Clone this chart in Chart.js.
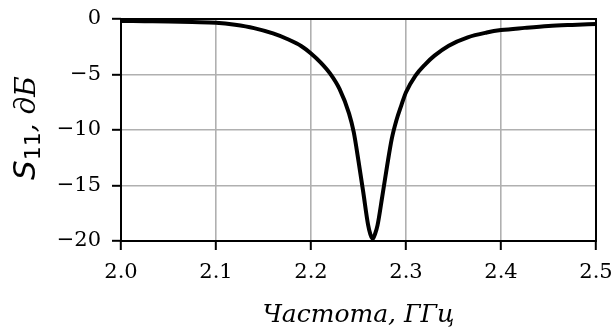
<!DOCTYPE html>
<html lang="ru">
<head>
  <meta charset="UTF-8" />
  <title>S11</title>
  <script src="https://cdn.jsdelivr.net/npm/chart.js"></script>
  <style>
    * { padding: 0; margin: 0; }
    html, body { background: #fff; }
    .graph { position: relative; width: 616px; height: 329px; }
  </style>
</head>
<body>
  <div class="graph">
    <canvas id="s11Graph" aria-label="S11 vs frequency" role="img"></canvas>
  </div>

<script>
  // Frequency, GHz
  const freq = [2.000, 2.025, 2.050, 2.075, 2.100, 2.120, 2.140, 2.160, 2.175, 2.190,
                2.200, 2.210, 2.220, 2.230, 2.240, 2.245, 2.250, 2.255, 2.260, 2.2625,
                2.265, 2.2675, 2.270, 2.275, 2.280, 2.285, 2.290, 2.295, 2.300, 2.310,
                2.320, 2.330, 2.345, 2.365, 2.385, 2.400, 2.425, 2.450, 2.475, 2.500];
  // Reflection coefficient, dB
  const s11 = [-0.17, -0.20, -0.23, -0.28, -0.34, -0.52, -0.82, -1.30, -1.80, -2.45,
               -3.10, -3.90, -4.90, -6.30, -8.50, -10.2, -12.8, -15.6, -18.5, -19.4,
               -19.8, -19.35, -18.6, -16.0, -13.3, -10.8, -9.10, -7.80, -6.60, -5.10,
               -4.10, -3.30, -2.40, -1.65, -1.22, -1.00, -0.80, -0.63, -0.53, -0.45];

  const xTicks = [2.0, 2.1, 2.2, 2.3, 2.4, 2.5];
  const yTicks = [-20, -15, -10, -5, 0];

  const points = freq.map((f, i) => ({ x: f, y: s11[i] }));

  // box around the plot area, drawn over the grid and the curve
  const frame = {
    id: 'frame',
    afterDatasetsDraw(chart) {
      const a = chart.chartArea;
      const ctx = chart.ctx;
      ctx.save();
      ctx.strokeStyle = '#000';
      ctx.lineWidth = 2;
      ctx.strokeRect(a.left, a.top, a.right - a.left, a.bottom - a.top);
      ctx.restore();
    }
  };

  // y title with a real subscript: S11, дБ
  const yTitle = {
    id: 'yTitle',
    afterDraw(chart) {
      const ctx = chart.ctx;
      const a = chart.chartArea;
      const parts = [
        { t: 'S', font: 'italic 31px "DejaVu Sans"', dy: 0 },
        { t: '11', font: '22px "DejaVu Sans"', dy: 5 },
        { t: ', дБ', font: 'italic 28px "DejaVu Serif"', dy: 0 }
      ];
      ctx.save();
      let total = 0;
      parts.forEach(p => { ctx.font = p.font; p.w = ctx.measureText(p.t).width; total += p.w; });
      ctx.translate(35, (a.top + a.bottom) / 2 - 2);
      ctx.rotate(-Math.PI / 2);
      ctx.fillStyle = '#000';
      ctx.textBaseline = 'alphabetic';
      ctx.textAlign = 'left';
      let x = -total / 2;
      parts.forEach(p => { ctx.font = p.font; ctx.fillText(p.t, x, p.dy); x += p.w; });
      ctx.restore();
    }
  };

  const tickFont = { family: 'DejaVu Serif', size: 21 };

  new Chart(document.getElementById('s11Graph'), {
    type: 'line',
    data: {
      datasets: [{
        data: points,
        borderColor: '#000',
        borderWidth: 4,
        pointRadius: 0,
        cubicInterpolationMode: 'monotone',
        fill: false
      }]
    },
    options: {
      responsive: true,
      maintainAspectRatio: false,
      animation: false,
      layout: { padding: { top: 19, right: 20, left: 0, bottom: 0 } },
      plugins: { legend: { display: false }, tooltip: { enabled: false } },
      scales: {
        x: {
          type: 'linear',
          min: 2.0,
          max: 2.5,
          afterFit(scale) {
            scale.height = 88;
            scale.paddingLeft = 0;
            scale.paddingRight = 0;
          },
          afterBuildTicks(scale) { scale.ticks = xTicks.map(v => ({ value: v })); },
          border: { display: false },
          grid: { color: '#b0b0b0', lineWidth: 1.6, tickColor: '#000', tickLength: 9, tickWidth: 2 },
          ticks: {
            color: '#000',
            font: tickFont,
            padding: 10,
            maxRotation: 0,
            callback: v => v.toFixed(1)
          },
          title: {
            display: true,
            text: 'Частота, ГГц',
            color: '#000',
            font: { family: 'DejaVu Serif', size: 25, style: 'italic' },
            padding: { top: 0, bottom: -1 }
          }
        },
        y: {
          min: -20,
          max: 0,
          afterFit(scale) {
            scale.width = 121;
            scale.paddingTop = 0;
            scale.paddingBottom = 0;
          },
          afterBuildTicks(scale) { scale.ticks = yTicks.map(v => ({ value: v })); },
          border: { display: false },
          grid: { color: '#b0b0b0', lineWidth: 1.6, tickColor: '#000', tickLength: 9, tickWidth: 2 },
          ticks: {
            color: '#000',
            font: tickFont,
            padding: 11,
            callback: v => (v < 0 ? '\u2212' + Math.abs(v) : String(v))
          }
        }
      }
    },
    plugins: [frame, yTitle]
  });
</script>
</body>
</html>
